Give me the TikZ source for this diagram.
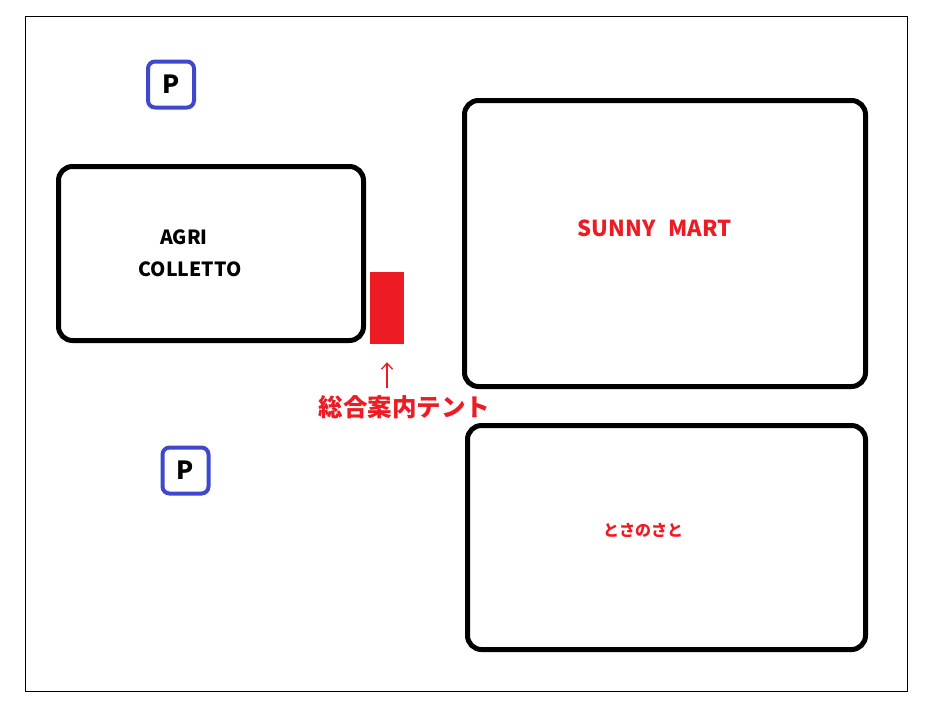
\documentclass[tikz,border=0pt]{standalone}
\usepackage{fontspec}
\setmainfont{Noto Sans CJK JP}
\usepackage{tikz}
\usetikzlibrary{arrows.meta}
\definecolor{mapred}{HTML}{ED1C24}
\definecolor{mapblue}{HTML}{3F48CC}
\tikzset{
	bldg/.style={rectangle,draw=black,line width=5pt,rounded corners=14pt,inner sep=0pt},
	park/.style={rectangle,draw=mapblue,line width=4pt,rounded corners=7pt,inner sep=0pt,minimum size=46pt,font=\fontsize{25}{25}\selectfont\bfseries},
	tent/.style={rectangle,fill=mapred,inner sep=0pt,minimum width=34pt,minimum height=72pt},
	labl/.style={font=\fontsize{19.5}{19.5}\selectfont\bfseries,inner sep=1pt},
	redlabl/.style={labl,text=mapred},
	point/.style={mapred,line width=1.3pt,-{Straight Barb[length=6pt,width=11pt]}},
	}
\begin{document}
\begin{tikzpicture}[x=1pt,y=-1pt]
 \useasboundingbox (0,0) rectangle (925,716);
 \draw[line width=1pt] (25,16) rectangle (907,691);

\node[park] (p1) at (171,84.5) {P};
\node[park] (p2) at (185.5,470.5) {P};

\node[bldg,minimum width=305pt,minimum height=174pt] (agri) at (211,253.5) {};
\node[bldg,minimum width=401pt,minimum height=286pt] (sunny) at (665,243.5) {};
\node[bldg,minimum width=398pt,minimum height=224pt] (tosa) at (666.5,537.5) {};
\node[tent] (info) at (387,308) {};

\node[labl] (agri1) at (184,237) {AGRI};
\node[labl] (agri2) at (190,269) {COLLETTO};
\node[redlabl,font=\fontsize{22}{22}\selectfont\bfseries] (sunnylbl) at (654.5,228) {SUNNY\hspace{13pt}MART};
\node[redlabl,font=\fontsize{16}{16}\selectfont\bfseries] (tosalbl) at (643,530) {とさのさと};
\node[redlabl,font=\fontsize{24.5}{24.5}\selectfont\bfseries] (infolbl) at (404.5,407) {総合案内テント};

 \draw[point,shorten <=6pt,shorten >=18pt] (info.south |- infolbl.north) -- (info.south);
\end{tikzpicture}
\end{document}
